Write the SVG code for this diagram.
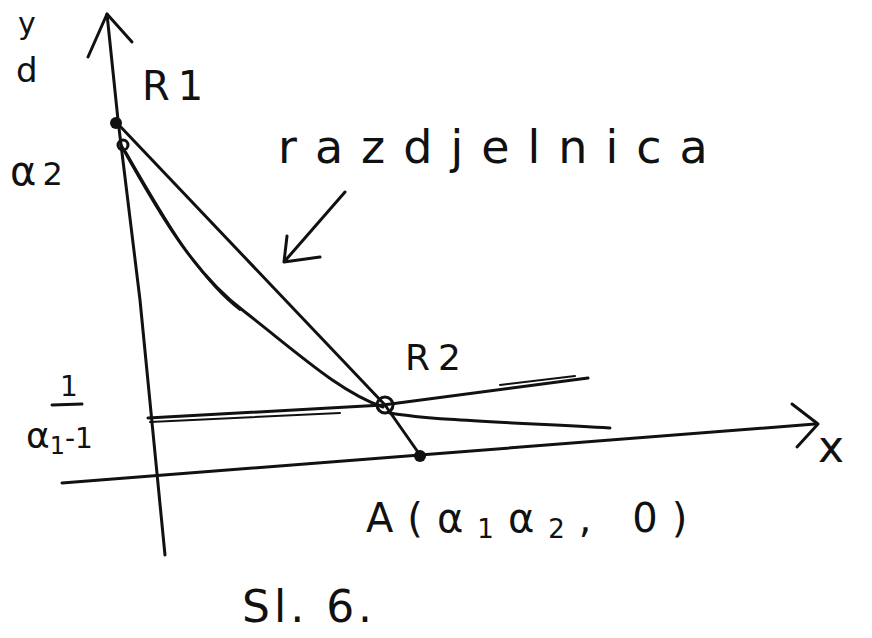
<svg xmlns="http://www.w3.org/2000/svg" width="872" height="638" viewBox="0 0 872 638">
<style>
.s{fill:none;stroke:#111;stroke-width:3;stroke-linecap:round;stroke-linejoin:round}
.t{stroke:#111;stroke-width:2;stroke-linecap:round;fill:none}
.h{font-family:"DejaVu Sans","Liberation Sans",sans-serif;fill:#111}
</style>
<rect width="872" height="638" fill="#fff"/>
<g id="axes">
<path class="s" d="M165,555 L140,300 L118,120 L107,14"/>
<path class="s" d="M88,57 L107,14 L132,42"/>
<path class="s" d="M62,483 L420,455 L815,424"/>
<path class="s" d="M792,404 L818,424 L797,447"/>
</g>
<g id="connectors">
<path class="s" d="M117,123 L385,405 L420,455"/>
<path class="s" d="M121,145 C160,215 195,275 245,312 C300,355 340,392 383,407"/>
<path class="t" d="M126,152 C165,220 200,280 240,310"/>
<path class="s" d="M390,413 C430,420 500,422 610,428"/>
<path class="s" d="M148,418 L383,405 L588,378"/>
<path class="t" d="M150,422 L340,413"/>
<path class="t" d="M500,385 L575,376"/>
<path class="s" d="M345,192 L284,262 M287,236 L284,262 L320,257"/>
</g>
<g id="R1">
<circle cx="116" cy="123" r="6" fill="#111"/>
<circle cx="123" cy="145" r="5" class="s"/>
<text class="h" x="142" y="100" font-size="40" letter-spacing="8">R1</text>
</g>
<g id="R2">
<circle cx="385" cy="405" r="8" class="s"/>
<text class="h" x="405" y="370" font-size="36" letter-spacing="8">R2</text>
</g>
<g id="A">
<circle cx="420" cy="456" r="6" fill="#111"/>
<text class="h" x="366" y="532" font-size="40" letter-spacing="14">A(α<tspan font-size="26" dy="6">1</tspan><tspan dy="-6">α</tspan><tspan font-size="26" dy="6">2</tspan><tspan dy="-6">, 0)</tspan></text>
</g>
<g id="labels">
<text class="h" x="18" y="34" font-size="30">y</text>
<text class="h" x="16" y="82" font-size="34">d</text>
<text class="h" x="10" y="185" font-size="40">α<tspan font-size="32" dx="6">2</tspan></text>
<text class="h" x="60" y="396" font-size="28">1</text>
<path class="s" d="M52,405 L82,404"/>
<text class="h" x="26" y="448" font-size="36">α<tspan font-size="24" dy="6">1</tspan><tspan font-size="28" dy="-6">-1</tspan></text>
<text class="h" x="818" y="462" font-size="44">x</text>
<text class="h" x="278" y="163" font-size="46" letter-spacing="18">razdjelnica</text>
<text class="h" x="242" y="622" font-size="44" letter-spacing="4">Sl. 6.</text>
</g>
</svg>
